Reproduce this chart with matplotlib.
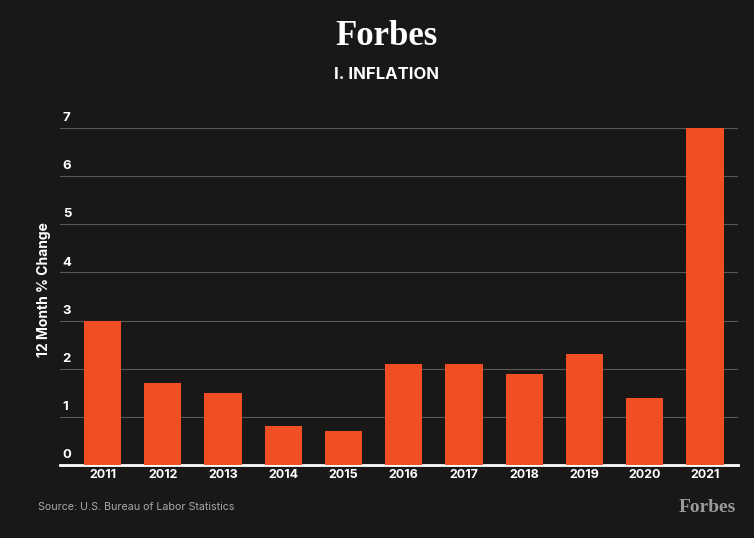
import matplotlib
matplotlib.use("Agg")
from matplotlib import pyplot as plt
import numpy as np

# data
years = ["2011", "2012", "2013", "2014", "2015", "2016", "2017", "2018", "2019", "2020", "2021"]
inflation = [3.0, 1.7, 1.5, 0.8, 0.7, 2.1, 2.1, 1.9, 2.3, 1.4, 7.0]
y_ticks = [0, 1, 2, 3, 4, 5, 6, 7]

bg = "#1a1817"
bar_color = "#f04e23"
font = "Inter"

fig = plt.figure(figsize=(7.54, 5.38), dpi=100, facecolor=bg)
ax = fig.add_axes([0.08, 0.1357, 0.899, 0.6264 * 7.05 / 7])
ax.set_facecolor(bg)

x = np.arange(len(years))
ax.bar(x, inflation, width=0.62, color=bar_color, zorder=3)

ax.set_xlim(-0.7, 10.55)
ax.set_ylim(0, 7.05)

# gridlines with labels sitting on top of them at the left edge
ax.set_yticks(y_ticks)
ax.yaxis.grid(True, color="#5a5856", linewidth=0.8, zorder=0)
ax.set_yticklabels([])
ax.tick_params(axis="y", length=0)
for t in y_ticks:
    ax.text(-0.66, t + 0.08, str(t), color="white", fontsize=9.5, fontweight="bold",
            family=font, ha="left", va="bottom")

ax.set_xticks(x)
ax.set_xticklabels(years, color="white", fontsize=9, fontweight="bold", family=font)
ax.tick_params(axis="x", length=0, pad=3)

for s in ["top", "right", "left"]:
    ax.spines[s].set_visible(False)
ax.spines["bottom"].set_color("white")
ax.spines["bottom"].set_linewidth(2)

fig.text(0.058, 0.461, "12 Month % Change", rotation=90, color="white", fontsize=10,
         fontweight="bold", family=font, ha="center", va="center")

fig.text(0.512, 0.932, "Forbes", color="white", fontsize=25, fontweight="bold",
         family="Liberation Serif", ha="center", va="center")
fig.text(0.512, 0.862, "I. INFLATION", color="white", fontsize=12, fontweight="bold",
         family=font, ha="center", va="center")

fig.text(0.05, 0.058, "Source: U.S. Bureau of Labor Statistics", color="#a8a8a8",
         fontsize=7.7, family=font, ha="left", va="center")
fig.text(0.976, 0.057, "Forbes", color="#9a9a9a", fontsize=14, fontweight="bold",
         family="Liberation Serif", ha="right", va="center")

fig.savefig("out.png", dpi=100, facecolor=bg)
